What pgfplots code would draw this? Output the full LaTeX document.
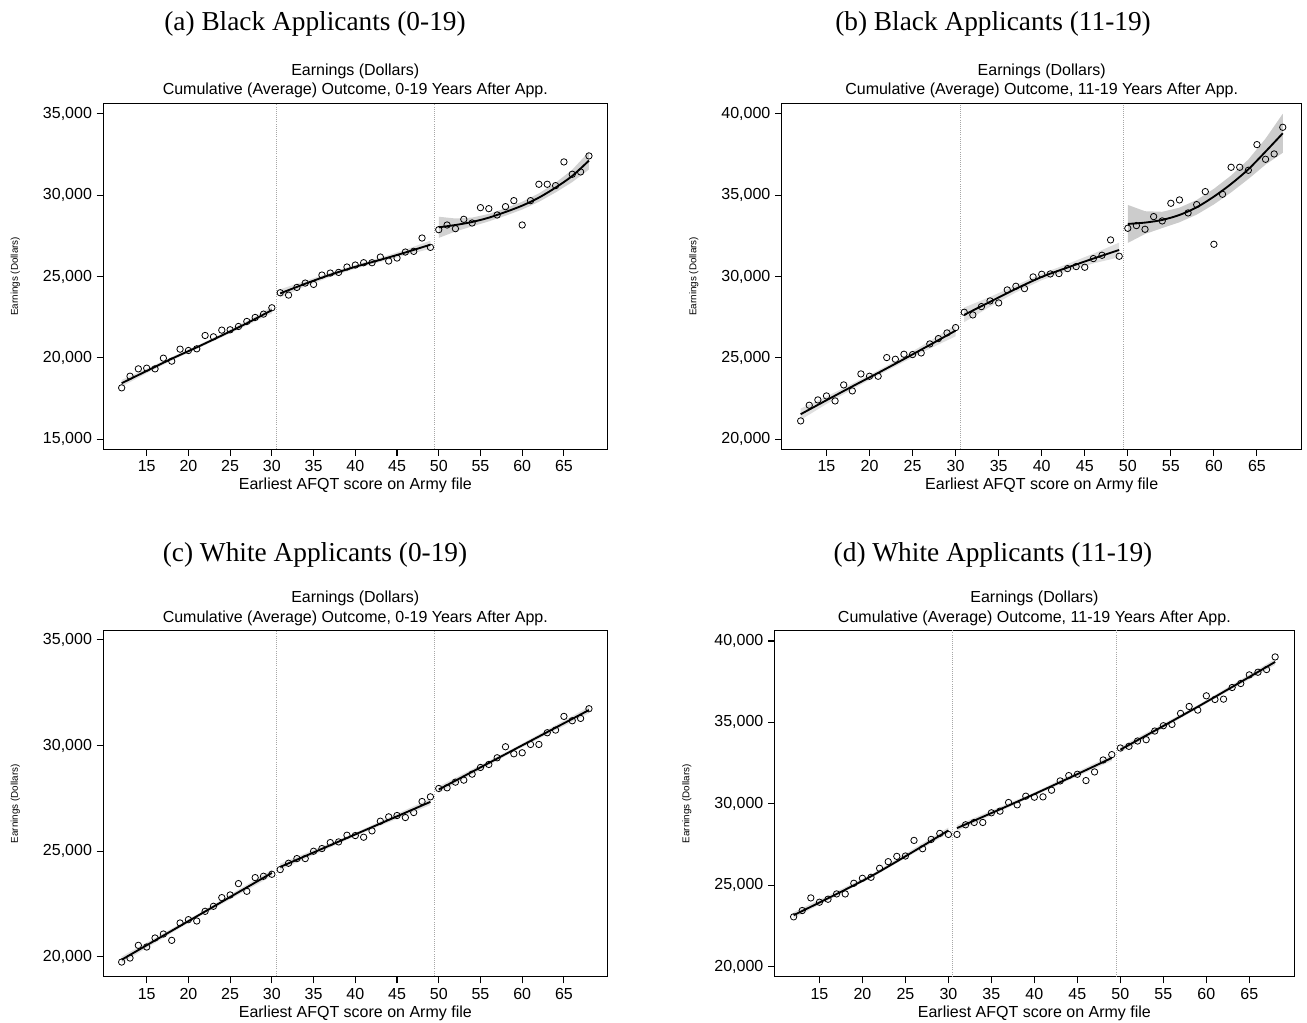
\documentclass[border=0pt]{standalone}
\usepackage{pgfplots}
\pgfplotsset{compat=1.18}
\usepackage{fontspec}
\setmainfont{Liberation Sans}
\newfontfamily\titlefont{Liberation Serif}

\pgfplotsset{
 panel/.style={
  scale only axis, anchor=south west, height=259.5pt,
  xmin=9.8, xmax=70.2, xtick={15,20,...,65},
  axis line style={line width=0.8pt},
  tick align=outside, xtick pos=bottom, ytick pos=left,
  major tick length=5pt,
  every tick/.style={black, line width=0.8pt},
  /pgf/number format/assume math mode=true,
  yticklabel style={/pgf/number format/fixed, /pgf/number format/1000 sep={,}},
  scaled y ticks=false,
  tick label style={font=\fontsize{12}{14}\selectfont},
  xlabel={Earliest AFQT score on Army file},
  xlabel style={font=\fontsize{12}{14}\selectfont, at={(axis description cs:0.5,0)}, anchor=base, yshift=-30.5pt},
 },
 titles/.style={after end axis/.append code={
  \node[anchor=base, font=\fontsize{12}{14}\selectfont] at ([yshift=21.2pt]rel axis cs:0.5,1) {Earnings (Dollars)};
  \node[anchor=base, font=\fontsize{12}{14}\selectfont] at ([yshift=6.5pt]rel axis cs:0.5,1) {Cumulative (Average) Outcome, #1 Years After App.};
  \node[rotate=90, font=\fontsize{7.4}{9}\selectfont] at ([xshift=-66pt]rel axis cs:0,0.5) {Earnings (Dollars)};
 }},
 pts/.style={only marks, mark=o, mark size=2.4pt, mark options={line width=0.6pt, black}},
 fit/.style={black, line width=1.4pt, smooth, no marks},
 band/.style={fill=gray!25, draw=none},
 cut/.style={gray!70, densely dotted, line width=0.6pt},
}

\begin{document}
\begin{tikzpicture}
\useasboundingbox (0,0) rectangle (980.25pt,767.25pt);

\node[anchor=base, font=\titlefont\fontsize{20.5}{24}\selectfont] at (236.25pt,744pt) {(a) Black Applicants (0-19)};
\node[anchor=base, font=\titlefont\fontsize{20.5}{24}\selectfont] at (744.75pt,744pt) {(b) Black Applicants (11-19)};
\node[anchor=base, font=\titlefont\fontsize{20.5}{24}\selectfont] at (236.25pt,345.75pt) {(c) White Applicants (0-19)};
\node[anchor=base, font=\titlefont\fontsize{20.5}{24}\selectfont] at (744.75pt,345.75pt) {(d) White Applicants (11-19)};

% ---------------- (a)
\begin{axis}[panel, titles={0-19}, at={(77.48pt,430.28pt)}, width=378pt,
  ymin=14385, ymax=35650, ytick={15000,20000,...,35000}]
\addplot[band] coordinates {(12,18646)(15,19340)(18,20060)(21,20750)(24,21490)(27,22270)(30,23138)
  (30,22738)(27,21990)(24,21270)(21,20550)(18,19840)(15,19060)(12,18246)} -- cycle;
\addplot[band] coordinates {(31,24214)(34,24730)(37,25240)(40,25720)(43,26160)(46,26650)(49,27210)
  (49,26710)(46,26310)(43,25900)(40,25480)(37,24980)(34,24390)(31,23714)} -- cycle;
\addplot[band, fill=gray!35] coordinates {(50,28676)(52,28569)(54,28624)(56,28850)(58,29199)(60,29599)(62,30111)(64,30767)(66,31565)(68,32678)
  (68,31578)(66,30805)(64,30167)(62,29591)(60,29119)(58,28739)(56,28390)(54,28084)(52,27769)(50,27376)} -- cycle;
\addplot[cut] coordinates {(30.5,0)(30.5,60000)};
\addplot[cut] coordinates {(49.5,0)(49.5,60000)};
\addplot[fit] coordinates {(12,18446)(15,19200)(18,19950)(21,20650)(24,21380)(27,22130)(30,22938)};
\addplot[fit] coordinates {(31,23964)(34,24560)(37,25110)(40,25600)(43,26030)(46,26480)(49,26960)};
\addplot[fit] coordinates {(50,28026)(52,28169)(54,28354)(56,28620)(58,28969)(60,29359)(62,29851)(64,30467)(66,31185)(68,32128)};
\addplot[pts] coordinates {(12,18160)(13,18877)(14,19328)(15,19369)(16,19328)(17,19985)(18,19800)(19,20538)(20,20456)(21,20559)(22,21379)(23,21297)(24,21708)(25,21729)(26,21933)(27,22241)(28,22487)(29,22692)(30,23082)(31,24005)(32,23861)(33,24333)(34,24600)(35,24518)(36,25092)(37,25215)(38,25256)(39,25585)(40,25708)(41,25851)(42,25851)(43,26200)(44,25954)(45,26138)(46,26508)(47,26549)(48,27369)(49,26795)(50,27882)(51,28169)(52,27944)(53,28518)(54,28292)(55,29236)(56,29174)(57,28785)(58,29297)(59,29667)(60,28169)(61,29667)(62,30672)(63,30672)(64,30590)(65,32046)(66,31287)(67,31431)(68,32415)};
\end{axis}

% ---------------- (b)
\begin{axis}[panel, titles={11-19}, at={(586.28pt,430.28pt)}, width=390pt,
  ymin=19385, ymax=40656, ytick={20000,25000,...,40000}]
\addplot[band] coordinates {(12,21890)(15,22630)(18,23420)(21,24230)(24,25100)(27,26030)(30,27030)
  (30,26330)(27,25570)(24,24760)(21,23930)(18,23080)(15,22170)(12,21190)} -- cycle;
\addplot[band] coordinates {(31,28100)(34,28750)(37,29470)(40,30180)(43,30780)(46,31410)(49,32090)
  (49,31190)(46,30810)(43,30340)(40,29780)(37,29030)(34,28150)(31,27200)} -- cycle;
\addplot[band, fill=gray!40] coordinates {(50,34408)(52,34020)(54,33984)(56,34240)(58,34710)(60,35398)(62,36217)(64,37198)(66,38484)(68,40011)
  (68,37611)(66,36884)(64,35998)(62,35177)(60,34438)(58,33810)(56,33340)(54,32984)(52,32620)(50,32068)} -- cycle;
\addplot[cut] coordinates {(30.5,0)(30.5,60000)};
\addplot[cut] coordinates {(49.5,0)(49.5,60000)};
\addplot[fit] coordinates {(12,21540)(15,22400)(18,23250)(21,24080)(24,24930)(27,25800)(30,26680)};
\addplot[fit] coordinates {(31,27650)(34,28450)(37,29250)(40,29980)(43,30560)(46,31110)(49,31640)};
\addplot[fit] coordinates {(50,33238)(52,33320)(54,33484)(56,33790)(58,34260)(60,34918)(62,35697)(64,36598)(66,37684)(68,38811)};
\addplot[pts] coordinates {(12,21129)(13,22092)(14,22420)(15,22665)(16,22358)(17,23342)(18,22973)(19,24018)(20,23874)(21,23874)(22,25022)(23,24919)(24,25227)(25,25207)(26,25309)(27,25862)(28,26190)(29,26538)(30,26866)(31,27808)(32,27645)(33,28157)(34,28505)(35,28382)(36,29181)(37,29407)(38,29263)(39,29980)(40,30144)(41,30164)(42,30185)(43,30493)(44,30616)(45,30575)(46,31107)(47,31312)(48,32255)(49,31251)(50,32972)(51,33136)(52,32910)(53,33689)(54,33423)(55,34509)(56,34714)(57,33915)(58,34427)(59,35226)(60,31988)(61,35062)(62,36722)(63,36722)(64,36537)(65,38115)(66,37213)(67,37541)(68,39180)};
\end{axis}

% ---------------- (c)
\begin{axis}[panel, titles={0-19}, at={(77.48pt,34.73pt)}, width=378pt,
  ymin=19050, ymax=35440, ytick={20000,25000,...,35000}]
\addplot[band] coordinates {(12,20004)(21,21990)(30,24115)(30,23815)(21,21830)(12,19704)} -- cycle;
\addplot[band] coordinates {(31,24399)(40,25870)(49,27482)(49,27182)(40,25710)(31,24099)} -- cycle;
\addplot[band] coordinates {(50,28067)(59,29880)(68,31830)(68,31530)(59,29720)(50,27767)} -- cycle;
\addplot[cut] coordinates {(30.5,0)(30.5,60000)};
\addplot[cut] coordinates {(49.5,0)(49.5,60000)};
\addplot[fit] coordinates {(12,19854)(21,21910)(30,23965)};
\addplot[fit] coordinates {(31,24249)(40,25790)(49,27332)};
\addplot[fit] coordinates {(50,27917)(59,29800)(68,31680)};
\addplot[pts] coordinates {(12,19743)(13,19933)(14,20534)(15,20455)(16,20882)(17,21071)(18,20771)(19,21593)(20,21751)(21,21688)(22,22146)(23,22384)(24,22795)(25,22921)(26,23459)(27,23095)(28,23743)(29,23807)(30,23901)(31,24123)(32,24423)(33,24644)(34,24644)(35,24992)(36,25119)(37,25403)(38,25435)(39,25751)(40,25735)(41,25656)(42,25957)(43,26415)(44,26621)(45,26684)(46,26589)(47,26826)(48,27348)(49,27569)(50,27965)(51,27996)(52,28265)(53,28360)(54,28644)(55,28961)(56,29103)(57,29419)(58,29941)(59,29609)(60,29656)(61,30051)(62,30051)(63,30605)(64,30731)(65,31380)(66,31174)(67,31285)(68,31743)};
\end{axis}

% ---------------- (d)
\begin{axis}[panel, titles={11-19}, at={(581.03pt,34.73pt)}, width=389.5pt,
  ymin=19386, ymax=40632, ytick={20000,25000,...,40000}]
\addplot[band] coordinates {(12,23342)(21,25650)(30,28547)(30,28187)(21,25450)(12,22982)} -- cycle;
\addplot[band] coordinates {(31,28689)(40,30700)(49,32996)(49,32636)(40,30500)(31,28329)} -- cycle;
\addplot[band] coordinates {(50,33506)(59,36059)(68,38894)(68,38534)(59,35859)(50,33146)} -- cycle;
\addplot[cut] coordinates {(30.5,0)(30.5,60000)};
\addplot[cut] coordinates {(49.5,0)(49.5,60000)};
\addplot[fit] coordinates {(12,23162)(21,25550)(30,28367)};
\addplot[fit] coordinates {(31,28509)(40,30600)(49,32816)};
\addplot[fit] coordinates {(50,33326)(59,35959)(68,38714)};
\addplot[pts] coordinates {(12,23060)(13,23447)(14,24223)(15,23958)(16,24141)(17,24468)(18,24468)(19,25121)(20,25427)(21,25488)(22,26040)(23,26448)(24,26774)(25,26795)(26,27754)(27,27244)(28,27815)(29,28183)(30,28121)(31,28121)(32,28713)(33,28856)(34,28856)(35,29448)(36,29550)(37,30081)(38,29938)(39,30469)(40,30407)(41,30427)(42,30836)(43,31407)(44,31734)(45,31816)(46,31428)(47,31958)(48,32693)(49,33020)(50,33428)(51,33530)(52,33857)(53,33938)(54,34469)(55,34795)(56,34877)(57,35551)(58,35979)(59,35755)(60,36632)(61,36408)(62,36428)(63,37143)(64,37388)(65,37918)(66,38081)(67,38245)(68,39020)};
\end{axis}
\end{tikzpicture}
\end{document}
